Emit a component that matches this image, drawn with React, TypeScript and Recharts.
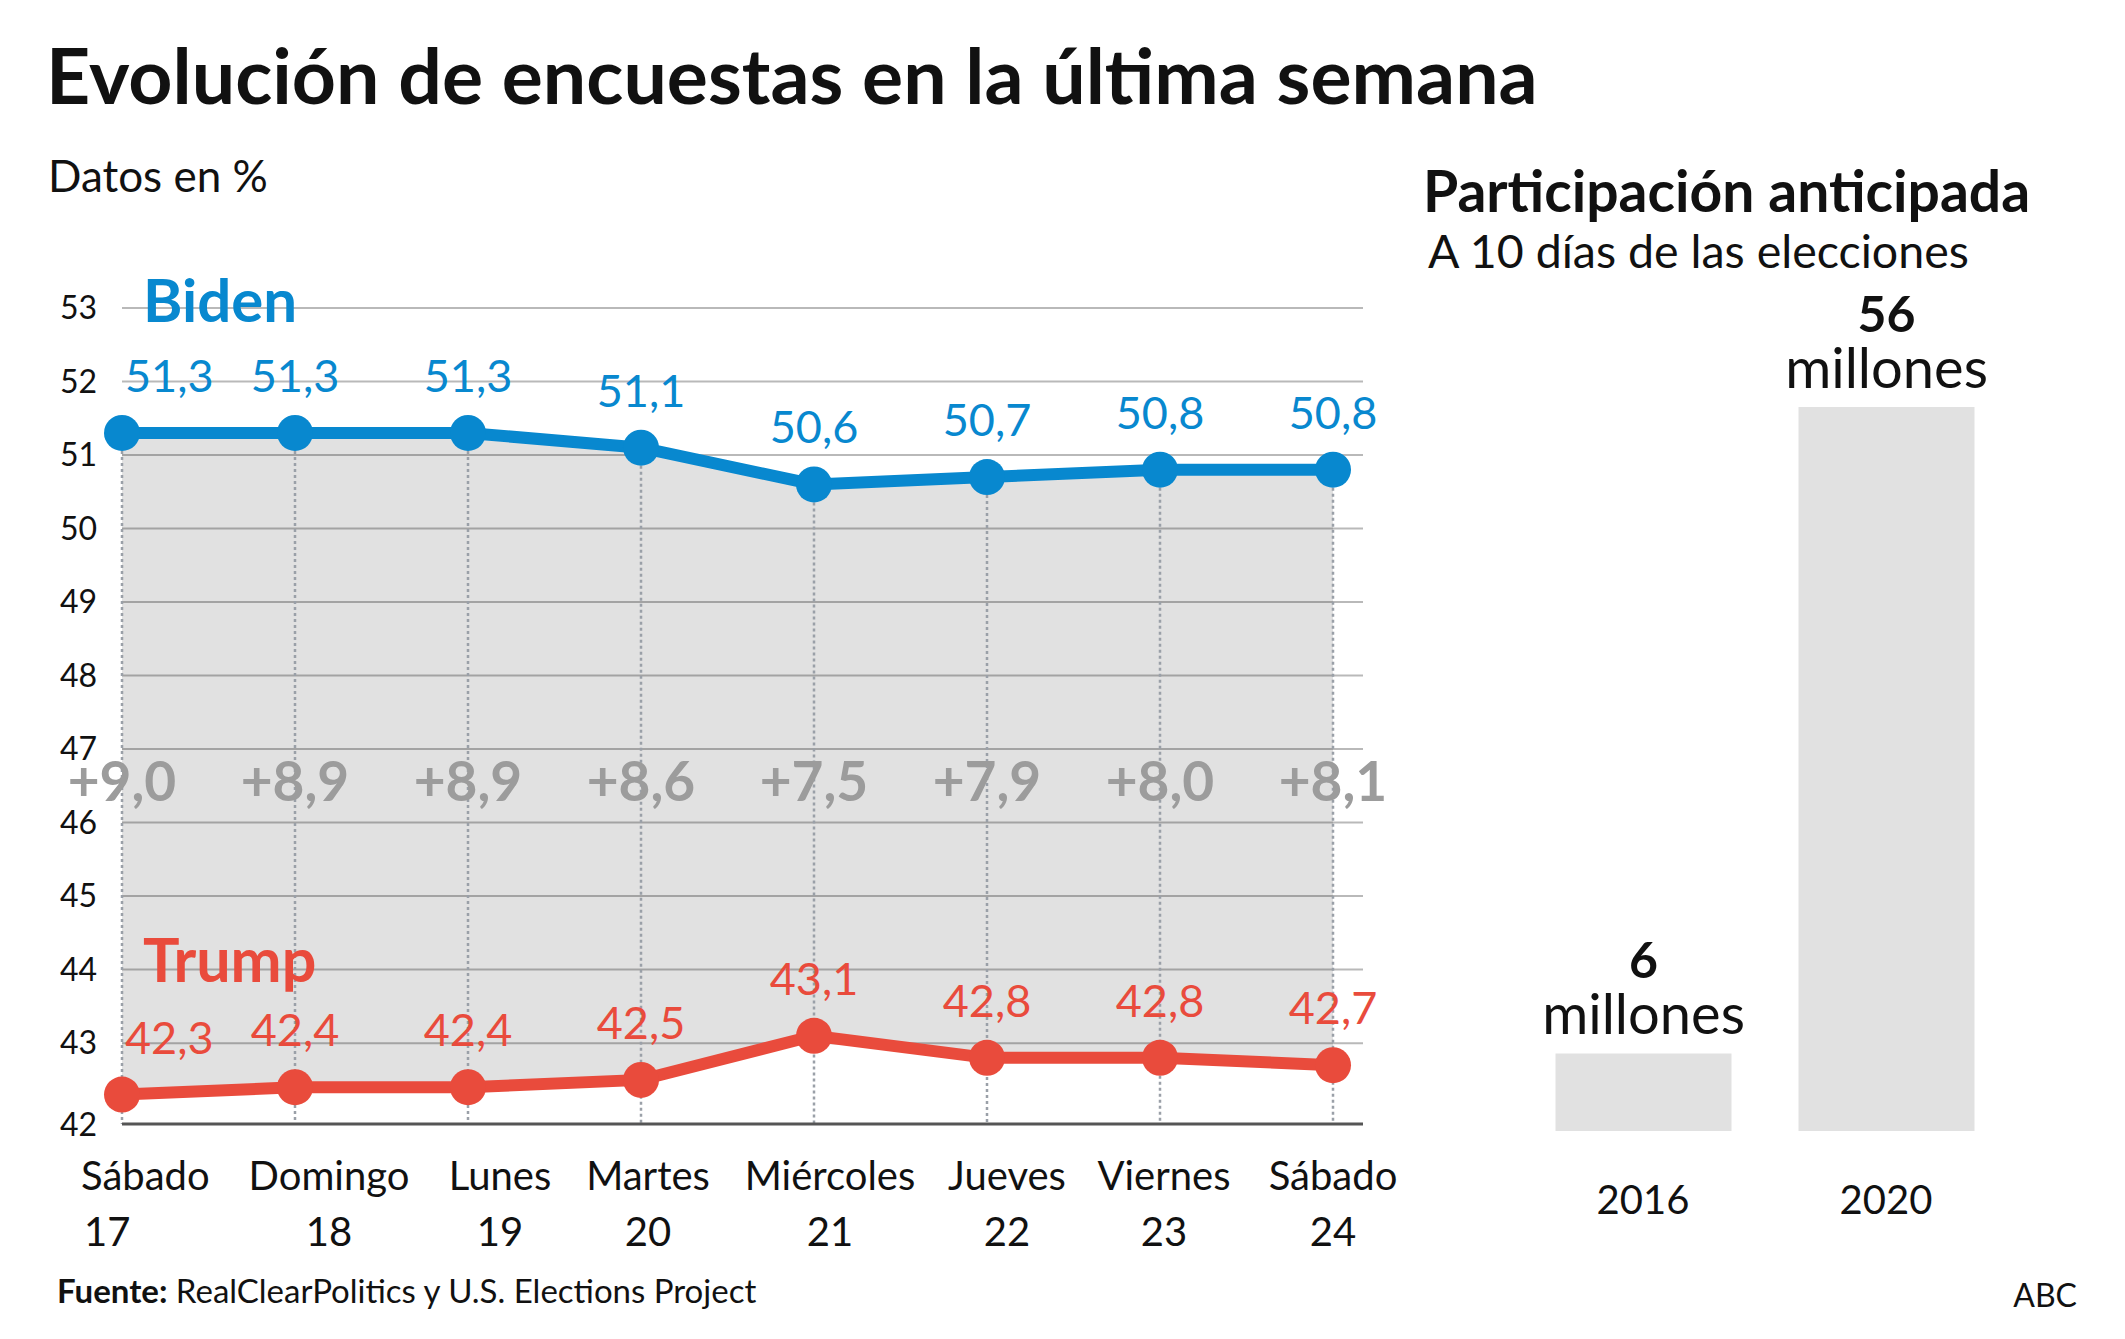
import React from 'react';
import {
  ComposedChart,
  Area,
  Line,
  XAxis,
  YAxis,
  CartesianGrid,
  ReferenceLine,
  LabelList,
  BarChart,
  Bar,
} from 'recharts';

// ---------- data ----------
const dayNames = ['Sábado', 'Domingo', 'Lunes', 'Martes', 'Miércoles', 'Jueves', 'Viernes', 'Sábado'];
const dayNumbers = ['17', '18', '19', '20', '21', '22', '23', '24'];
const bidenValues = [51.3, 51.3, 51.3, 51.1, 50.6, 50.7, 50.8, 50.8];
const trumpValues = [42.3, 42.4, 42.4, 42.5, 43.1, 42.8, 42.8, 42.7];
const marginLabels = ['+9,0', '+8,9', '+8,9', '+8,6', '+7,5', '+7,9', '+8,0', '+8,1'];
const yTicks = [42, 43, 44, 45, 46, 47, 48, 49, 50, 51, 52, 53];
const gridValues = [43, 44, 45, 46, 47, 48, 49, 50, 51, 52, 53];

const years = ['2016', '2020'];
const earlyVotesMillions = [6, 56];

// ---------- style ----------
const FONT = "Lato, 'Open Sans', sans-serif";
const BLUE = '#0888cf';
const RED = '#e94b3c';
const MARGIN_GRAY = '#9c9c9c';
const Y_MIN = 41.9;
const Y_MAX = 53;
const MARGIN_LEVEL = 46.56;
const TICK_DX = [0, 34, 32, 7, 16, 20, 4, 0];

const pollData = dayNames.map((n, i) => ({
  day: `${n} ${dayNumbers[i]}`,
  biden: bidenValues[i],
  trump: trumpValues[i],
  margin: marginLabels[i],
}));

const barData = years.map((y, i) => ({ year: y, value: earlyVotesMillions[i] }));

const fmt = (v: number) => v.toFixed(1).replace('.', ',');

const getXY = (p: any) => {
  const x = p.x ?? p.viewBox?.x ?? 0;
  const y = p.y ?? p.viewBox?.y ?? 0;
  return { x, y };
};

const makeValueLabel = (color: string) => (p: any) => {
  const { x, y } = getXY(p);
  const first = p.index === 0;
  return (
    <text
      x={first ? x + 3 : x}
      y={y - 41}
      textAnchor={first ? 'start' : 'middle'}
      fontFamily={FONT}
      fontSize={45}
      fill={color}
    >
      {fmt(Number(p.value))}
    </text>
  );
};

const MarginLabel = (p: any) => {
  const { x, y } = getXY(p);
  return (
    <text x={x} y={y + 20} textAnchor="middle" fontFamily={FONT} fontWeight={700} fontSize={55} fill={MARGIN_GRAY}>
      {p.value}
    </text>
  );
};

const YTick = (p: any) => {
  const v = p.payload.value;
  const shift = v === 42 ? 8 : 0;
  return (
    <text x={p.x - 62} y={p.y + 11 + shift} textAnchor="start" fontFamily={FONT} fontSize={32} fill="#111">
      {v}
    </text>
  );
};

const XTick = (p: any) => {
  const idx = p.index;
  const [name, num] = String(p.payload.value).split(' ');
  const first = idx === 0;
  const tx = first ? p.x - 41 : p.x + (TICK_DX[idx] || 0);
  const anchor = first ? 'start' : 'middle';
  return (
    <g>
      <text x={tx} y={p.y + 66} textAnchor={anchor} fontFamily={FONT} fontSize={40} fill="#111">
        {name}
      </text>
      <text x={first ? tx + 3 : tx} y={p.y + 122} textAnchor={anchor} fontFamily={FONT} fontSize={40} fill="#111">
        {num}
      </text>
    </g>
  );
};

const YearTick = (p: any) => (
  <text x={p.x} y={p.y + 83} textAnchor="middle" fontFamily={FONT} fontSize={40} fill="#111">
    {p.payload.value}
  </text>
);

const BarValueLabel = (p: any) => {
  const x = Number(p.x) + Number(p.width) / 2;
  const y = Number(p.y);
  return (
    <g>
      <text x={x} y={y - 75} textAnchor="middle" fontFamily={FONT} fontWeight={700} fontSize={50} fill="#111">
        {p.value}
      </text>
      <text x={x} y={y - 19} textAnchor="middle" fontFamily={FONT} fontSize={56} fill="#111">
        millones
      </text>
    </g>
  );
};

export default function App() {
  return (
    <div style={{ position: 'absolute', left: 0, top: 0, width: 2125, height: 1339, background: '#fff', overflow: 'hidden' }}>
      <div style={{ position: 'absolute', left: 0, top: 0 }}>
        <ComposedChart
          width={1420}
          height={1300}
          data={pollData}
          margin={{ top: 308, right: 57, bottom: 26, left: 0 }}
        >
          <CartesianGrid
            vertical={false}
            horizontalValues={gridValues}
            stroke="#b9b9b9"
            strokeWidth={2}
          />
          <XAxis
            dataKey="day"
            type="category"
            scale="point"
            padding={{ left: 0, right: 30 }}
            height={150}
            axisLine={{ stroke: '#555', strokeWidth: 3 }}
            tickLine={false}
            tickSize={0}
            tickMargin={0}
            tick={<XTick />}
            interval={0}
          />
          <YAxis
            type="number"
            domain={[Y_MIN, Y_MAX]}
            ticks={yTicks}
            width={122}
            axisLine={false}
            tickLine={false}
            tickSize={0}
            tickMargin={0}
            tick={<YTick />}
            interval={0}
            allowDataOverflow
          />
          <Area
            dataKey={(d: any) => [d.trump, d.biden]}
            stroke="none"
            fill="#000"
            fillOpacity={0.118}
            isAnimationActive={false}
            activeDot={false}
          />
          {pollData.map((d) => (
            <ReferenceLine
              key={d.day}
              segment={[
                { x: d.day, y: d.biden },
                { x: d.day, y: Y_MIN },
              ]}
              stroke="#9aa0a8"
              strokeWidth={2.5}
              strokeDasharray="3 3"
              ifOverflow="visible"
            />
          ))}
          <Line
            dataKey={() => MARGIN_LEVEL}
            stroke="none"
            dot={false}
            activeDot={false}
            isAnimationActive={false}
          >
            <LabelList dataKey="margin" content={MarginLabel} />
          </Line>
          <Line
            dataKey="trump"
            stroke={RED}
            strokeWidth={12}
            dot={{ r: 18, fill: RED, stroke: 'none' }}
            activeDot={false}
            isAnimationActive={false}
          >
            <LabelList dataKey="trump" content={makeValueLabel(RED)} />
          </Line>
          <Line
            dataKey="biden"
            stroke={BLUE}
            strokeWidth={12}
            dot={{ r: 18, fill: BLUE, stroke: 'none' }}
            activeDot={false}
            isAnimationActive={false}
          >
            <LabelList dataKey="biden" content={makeValueLabel(BLUE)} />
          </Line>
        </ComposedChart>
      </div>

      <div style={{ position: 'absolute', left: 1500, top: 240 }}>
        <BarChart
          width={560}
          height={1020}
          data={barData}
          margin={{ top: 167, right: 52.5, bottom: 19, left: 21.5 }}
        >
          <XAxis
            dataKey="year"
            height={110}
            axisLine={false}
            tickLine={false}
            tickSize={0}
            tickMargin={0}
            tick={<YearTick />}
            interval={0}
          />
          <YAxis hide domain={[0, 56]} />
          <Bar dataKey="value" fill="#e1e1e1" barSize={176} isAnimationActive={false}>
            <LabelList dataKey="value" content={BarValueLabel} />
          </Bar>
        </BarChart>
      </div>

      <svg
        width={2125}
        height={1339}
        style={{ position: 'absolute', left: 0, top: 0, pointerEvents: 'none' }}
      >
        <text x={46} y={104} fontFamily={FONT} fontWeight={700} fontSize={77} fill="#111">
          Evolución de encuestas en la última semana
        </text>
        <text x={48} y={192} fontFamily={FONT} fontSize={44} fill="#111">
          Datos en %
        </text>
        <text x={143} y={322} fontFamily={FONT} fontWeight={700} fontSize={60} fill={BLUE}>
          Biden
        </text>
        <text x={143} y={982} fontFamily={FONT} fontWeight={700} fontSize={61} fill={RED}>
          Trump
        </text>
        <text x={1423} y={212} fontFamily={FONT} fontWeight={700} fontSize={57} fill="#111">
          Participación anticipada
        </text>
        <text x={1428} y={268} fontFamily={FONT} fontSize={46.5} fill="#111">
          A 10 días de las elecciones
        </text>
        <text x={57} y={1303} fontFamily={FONT} fontSize={33} fill="#111">
          <tspan fontWeight={700}>Fuente:</tspan>
          <tspan> RealClearPolitics y U.S. Elections Project</tspan>
        </text>
        <text x={2077} y={1307} textAnchor="end" fontFamily={FONT} fontSize={32} fill="#111">
          ABC
        </text>
      </svg>
    </div>
  );
}
